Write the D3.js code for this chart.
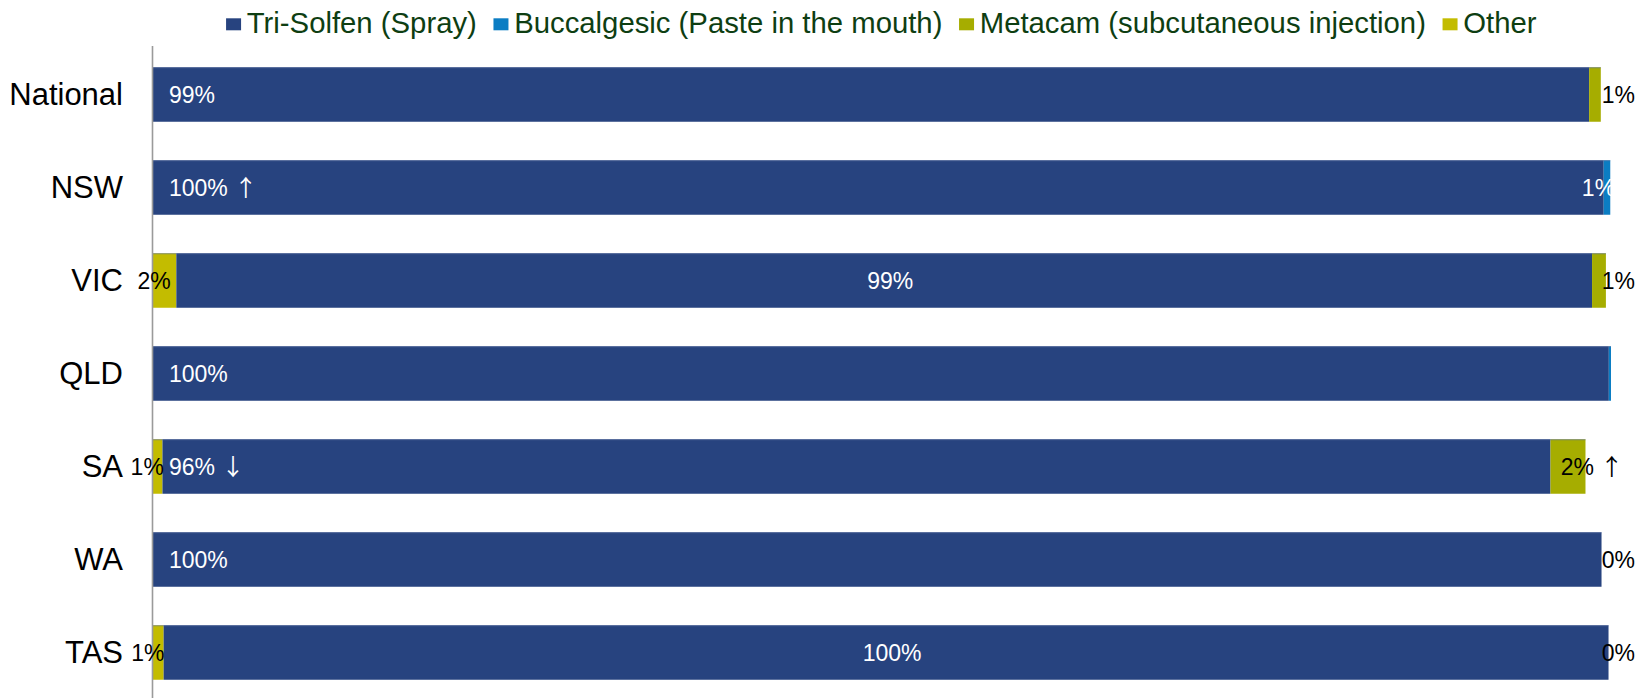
<!DOCTYPE html>
<html>
<head>
<meta charset="utf-8">
<script src="https://cdn.jsdelivr.net/npm/d3@7"></script>
<style>
  html, body { margin: 0; padding: 0; background: #fff; }
  svg { display: block; font-family: "Liberation Sans", Arial, sans-serif; }
</style>
</head>
<body>
<svg id="chart" width="1642" height="698"></svg>
<script>
// ---- data ----
const categories = ["National", "NSW", "VIC", "QLD", "SA", "WA", "TAS"];
const seriesNames = ["Other", "Tri-Solfen (Spray)", "Buccalgesic (Paste in the mouth)", "Metacam (subcutaneous injection)"];
const legendOrder = ["Tri-Solfen (Spray)", "Buccalgesic (Paste in the mouth)", "Metacam (subcutaneous injection)", "Other"];
const otherValues    = [0,    0,    1.6,  0,     0.65, 0,     0.73];
const triValues      = [98.5, 99.5, 97.1, 99.85, 95.2, 99.35, 99.1];
const buccValues     = [0,    0.45, 0,    0.15,  0,    0,     0];
const metacamValues  = [0.8,  0,    0.95, 0,     2.4,  0,     0];
// data labels per category
const otherLabels    = ["", "", "2%", "", "1%", "", "1%"];
const triLabels      = ["99%", "100% \u2191", "99%", "100%", "96% \u2193", "100%", "100%"];
const buccLabels     = ["", "1%", "", "", "", "", ""];
const metacamLabels  = ["1%", "", "1%", "", "2% \u2191", "0%", "0%"];
const axisMax = 100;

// ---- styles ----
const colors = {
  "Tri-Solfen (Spray)": "#27437F",
  "Buccalgesic (Paste in the mouth)": "#0B7DC3",
  "Metacam (subcutaneous injection)": "#A6AD00",
  "Other": "#C3BC00"
};
const valuesBySeries = {
  "Other": otherValues,
  "Tri-Solfen (Spray)": triValues,
  "Buccalgesic (Paste in the mouth)": buccValues,
  "Metacam (subcutaneous injection)": metacamValues
};
const labelsBySeries = {
  "Other": otherLabels,
  "Tri-Solfen (Spray)": triLabels,
  "Buccalgesic (Paste in the mouth)": buccLabels,
  "Metacam (subcutaneous injection)": metacamLabels
};

const svg = d3.select("#chart");
const x0 = 153, x100 = 1611;
const x = d3.scaleLinear().domain([0, axisMax]).range([x0, x100]);
const y = d3.scaleBand().domain(categories).range([48, 699]).paddingInner(0.414).paddingOuter(0.207);

const table = categories.map((c, i) => {
  const row = { category: c };
  seriesNames.forEach(s => row[s] = valuesBySeries[s][i]);
  return row;
});
const stacked = d3.stack().keys(seriesNames)(table);

// bars
svg.append("g").selectAll("g").data(stacked).join("g")
  .attr("fill", d => colors[d.key])
  .selectAll("rect").data(d => d.map(v => ({ v, key: d.key })))
  .join("rect")
  .attr("x", d => x(d.v[0]))
  .attr("y", d => y(d.v.data.category))
  .attr("width", d => Math.max(0, x(d.v[1]) - x(d.v[0])))
  .attr("height", y.bandwidth());

// bar top highlight
svg.append("g").selectAll("line").data(categories).join("line")
  .attr("x1", x0).attr("x2", c => {
    const i = categories.indexOf(c);
    return x(otherValues[i] + triValues[i] + buccValues[i] + metacamValues[i]);
  })
  .attr("y1", c => y(c) + 0.5).attr("y2", c => y(c) + 0.5)
  .attr("stroke", "#5a6f9f").attr("stroke-width", 1).attr("opacity", 0.6);

// axis line
svg.append("line").attr("x1", x0 - 0.5).attr("x2", x0 - 0.5).attr("y1", 46).attr("y2", 698)
  .attr("stroke", "#9a9a9a").attr("stroke-width", 1.6);

// category labels
svg.append("g").selectAll("text").data(categories).join("text")
  .attr("x", 123).attr("y", c => y(c) + y.bandwidth() / 2)
  .attr("dy", "0.35em").attr("text-anchor", "end")
  .attr("font-size", 31).attr("fill", "#000").text(c => c);

// data labels
const labelData = [];
stacked.forEach(layer => {
  layer.forEach((v, i) => {
    const t = labelsBySeries[layer.key][i];
    if (t) labelData.push({ key: layer.key, cat: categories[i], i, v, text: t });
  });
});
function labelPos(d) {
  const s = x(d.v[0]), e = x(d.v[1]), mid = (s + e) / 2;
  if (d.key === "Tri-Solfen (Spray)") {
    if (d.cat === "VIC" || d.cat === "TAS") return { x: mid + 6, anchor: "middle" };
    return { x: x0 + 16, anchor: "start" };
  }
  if (d.key === "Other") return { x: mid - 10.5, anchor: "middle" };
  if (d.key === "Buccalgesic (Paste in the mouth)") return { x: mid - 8.5, anchor: "middle" };
  if (d.cat === "SA") return { x: mid + 24, anchor: "middle" };
  return { x: 1635, anchor: "end" };
}
svg.append("g").selectAll("text").data(labelData).join("text")
  .each(function(d) {
    const p = labelPos(d);
    const t = d3.select(this).attr("x", p.x).attr("text-anchor", p.anchor);
    const m = d.text.match(/^(.*?)([\u2191\u2193])$/);
    if (m) {
      t.append("tspan").text(m[1]);
      t.append("tspan").attr("font-family", "'Noto Sans CJK JP'").attr("font-size", 23).text(m[2]);
    } else {
      t.text(d.text);
    }
  })
  .attr("y", d => y(d.cat) + y.bandwidth() / 2)
  .attr("dy", "0.35em")
  .attr("font-size", 23)
  .attr("fill", d => (d.key === "Tri-Solfen (Spray)" || d.key === "Buccalgesic (Paste in the mouth)") ? "#fff" : "#000");

// legend
const lg = svg.append("g");
let cx = 0;
legendOrder.forEach(name => {
  const g = lg.append("g").attr("transform", `translate(${cx},0)`);
  g.append("rect").attr("x", 0).attr("y", 18.3).attr("width", 15).attr("height", 12).attr("fill", colors[name]);
  const t = g.append("text").attr("x", 20.7).attr("y", 32.7).attr("font-size", 29.3).attr("fill", "#0E3E12").text(name);
  const w = t.node().getComputedTextLength();
  cx += 20.7 + w + 16.6;
});
const total = cx - 16.6;
lg.attr("transform", `translate(${881.3 - total / 2},0)`);
</script>
</body>
</html>
